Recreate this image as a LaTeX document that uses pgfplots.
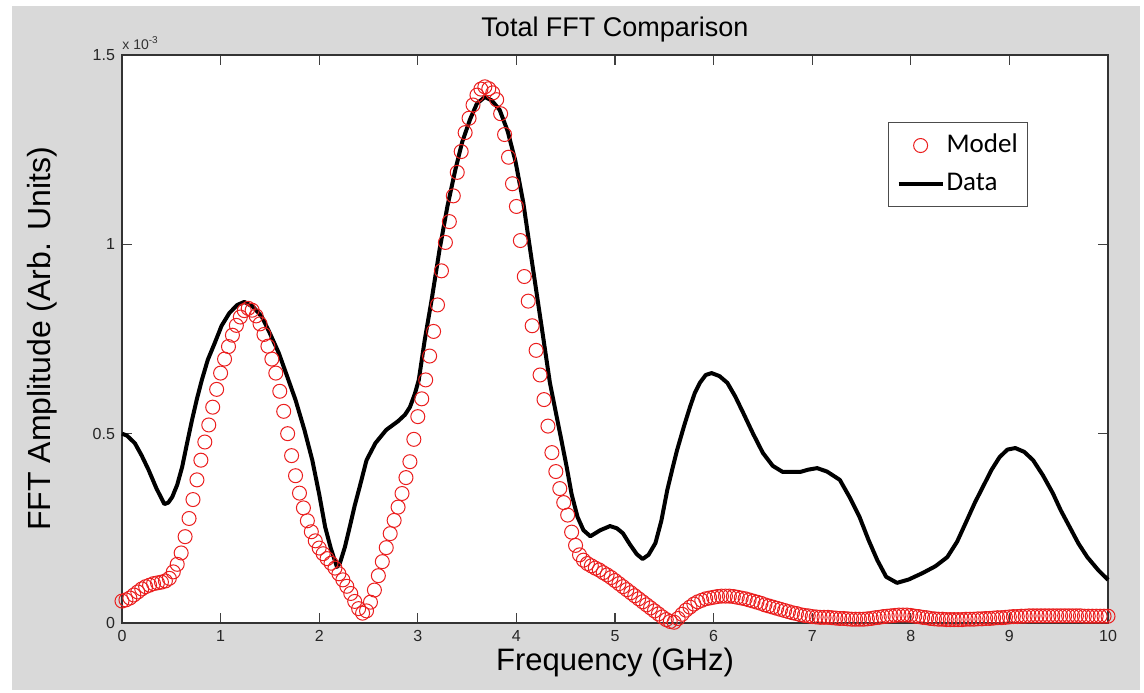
\documentclass[border=0pt]{standalone}
\usepackage{pgfplots}
\pgfplotsset{compat=1.18}
\usepackage{fontspec}
\setmainfont{Liberation Sans}
\newfontfamily\calibri{Carlito}
\definecolor{figbg}{RGB}{217,217,217}
\definecolor{mred}{RGB}{235,30,30}
\pgfplotsset{
  markleg/.style={legend image code/.code={\draw[mark repeat=2,mark phase=2,##1] plot coordinates {(0pt,0pt) (11pt,0pt) (22pt,0pt)};}},
  lineleg/.style={legend image code/.code={\draw[##1] (0pt,0pt) -- (22pt,0pt);}},
}
\begin{document}
\begin{tikzpicture}
\useasboundingbox (0,0) rectangle (572pt,346pt);
\fill[white] (0,0) rectangle (572pt,346pt);
\fill[figbg] (6pt,1pt) rectangle (570pt,343pt);
\begin{axis}[
  scale only axis,
  width=493pt, height=284pt,
  at={(61pt,34.5pt)}, anchor=south west,
  axis background/.style={fill=white},
  xmin=0, xmax=10, ymin=0, ymax=1.5,
  xtick={0,1,...,10},
  ytick={0,0.5,1,1.5},
  yticklabels={0,0.5,1,1.5},
  scaled y ticks=false,
  tick align=inside,
  major tick length=5pt,
  every tick/.style={black!75, line width=0.6pt},
  axis line style={black!80, line width=0.7pt},
  tick label style={font=\fontsize{8}{9}\selectfont, text=black!85},
  /pgf/number format/assume math mode=true,
  clip=false,
  xlabel={Frequency (GHz)},
  xlabel style={at={(axis description cs:0.5,-0.0687)}, anchor=center, font=\fontsize{15.5}{16}\selectfont},
  ylabel={FFT Amplitude (Arb. Units)},
  ylabel style={at={(axis description cs:-0.0811,0.5)}, anchor=center, font=\fontsize{16}{17}\selectfont},
  legend style={at={(axis description cs:0.777,0.882)}, anchor=north west,
    draw=black!70, line width=0.5pt, fill=white,
    font=\calibri\fontsize{13.5}{14}\selectfont,
    inner xsep=4pt, inner ysep=4pt, row sep=4pt,
    nodes={inner sep=1pt, text height=10pt, text depth=3pt}},
  legend cell align=left,
]
\addplot[only marks, mark=o, mark size=3.5pt, mred, mark options={line width=0.5pt}, markleg]
table {
x y
0.00 0.058
0.04 0.061
0.08 0.066
0.12 0.074
0.16 0.082
0.20 0.090
0.24 0.096
0.28 0.100
0.32 0.104
0.36 0.106
0.40 0.108
0.44 0.111
0.48 0.118
0.52 0.135
0.56 0.155
0.60 0.185
0.64 0.228
0.68 0.276
0.72 0.326
0.76 0.378
0.80 0.430
0.84 0.478
0.88 0.523
0.92 0.570
0.96 0.617
1.00 0.660
1.04 0.697
1.08 0.730
1.12 0.760
1.16 0.786
1.20 0.808
1.24 0.825
1.28 0.831
1.32 0.826
1.36 0.811
1.40 0.790
1.44 0.762
1.48 0.731
1.52 0.697
1.56 0.660
1.60 0.612
1.64 0.559
1.68 0.500
1.72 0.442
1.76 0.389
1.80 0.343
1.84 0.304
1.88 0.270
1.92 0.241
1.96 0.217
2.00 0.198
2.04 0.183
2.08 0.170
2.12 0.158
2.16 0.145
2.20 0.130
2.24 0.114
2.28 0.097
2.32 0.078
2.36 0.057
2.40 0.038
2.44 0.026
2.48 0.032
2.52 0.055
2.56 0.087
2.60 0.125
2.64 0.162
2.68 0.199
2.72 0.236
2.76 0.271
2.80 0.306
2.84 0.342
2.88 0.384
2.92 0.426
2.96 0.485
3.00 0.545
3.04 0.592
3.08 0.642
3.12 0.705
3.16 0.770
3.20 0.840
3.24 0.930
3.28 1.005
3.32 1.060
3.36 1.128
3.40 1.190
3.44 1.245
3.48 1.295
3.52 1.333
3.56 1.368
3.60 1.394
3.64 1.410
3.68 1.416
3.72 1.411
3.76 1.400
3.80 1.382
3.84 1.345
3.88 1.290
3.92 1.230
3.96 1.160
4.00 1.100
4.04 1.010
4.08 0.915
4.12 0.850
4.16 0.785
4.20 0.720
4.24 0.655
4.28 0.590
4.32 0.520
4.36 0.450
4.40 0.400
4.44 0.355
4.48 0.318
4.52 0.285
4.56 0.240
4.60 0.205
4.64 0.180
4.68 0.166
4.72 0.157
4.76 0.151
4.80 0.145
4.84 0.140
4.88 0.133
4.92 0.127
4.96 0.120
5.00 0.112
5.04 0.104
5.08 0.096
5.12 0.088
5.16 0.080
5.20 0.072
5.24 0.064
5.28 0.056
5.32 0.048
5.36 0.040
5.40 0.032
5.44 0.024
5.48 0.016
5.52 0.009
5.56 0.004
5.60 0.002
5.64 0.012
5.68 0.023
5.72 0.034
5.76 0.042
5.80 0.050
5.84 0.056
5.88 0.060
5.92 0.064
5.96 0.066
6.00 0.068
6.04 0.070
6.08 0.071
6.12 0.071
6.16 0.071
6.20 0.070
6.24 0.068
6.28 0.066
6.32 0.064
6.36 0.061
6.40 0.058
6.44 0.055
6.48 0.052
6.52 0.048
6.56 0.045
6.60 0.042
6.64 0.039
6.68 0.036
6.72 0.033
6.76 0.030
6.80 0.027
6.84 0.025
6.88 0.022
6.92 0.020
6.96 0.019
7.00 0.017
7.04 0.016
7.08 0.015
7.12 0.015
7.16 0.015
7.20 0.014
7.24 0.013
7.28 0.012
7.32 0.012
7.36 0.011
7.40 0.010
7.44 0.010
7.48 0.010
7.52 0.010
7.56 0.011
7.60 0.012
7.64 0.014
7.68 0.015
7.72 0.017
7.76 0.018
7.80 0.019
7.84 0.020
7.88 0.021
7.92 0.021
7.96 0.021
8.00 0.020
8.04 0.018
8.08 0.017
8.12 0.015
8.16 0.014
8.20 0.012
8.24 0.011
8.28 0.010
8.32 0.010
8.36 0.009
8.40 0.009
8.44 0.009
8.48 0.009
8.52 0.009
8.56 0.010
8.60 0.010
8.64 0.010
8.68 0.011
8.72 0.011
8.76 0.012
8.80 0.012
8.84 0.013
8.88 0.014
8.92 0.014
8.96 0.015
9.00 0.016
9.04 0.017
9.08 0.017
9.12 0.018
9.16 0.018
9.20 0.019
9.24 0.019
9.28 0.019
9.32 0.019
9.36 0.019
9.40 0.019
9.44 0.019
9.48 0.019
9.52 0.019
9.56 0.019
9.60 0.019
9.64 0.019
9.68 0.019
9.72 0.019
9.76 0.018
9.80 0.018
9.84 0.018
9.88 0.018
9.92 0.018
9.96 0.018
10.00 0.018
};
\addlegendentry{Model}
\addplot[black, line width=2pt, line join=round, lineleg]
table {
x y
0.00 0.500
0.05 0.495
0.13 0.475
0.20 0.442
0.27 0.404
0.35 0.355
0.43 0.314
0.47 0.318
0.51 0.333
0.56 0.365
0.61 0.412
0.66 0.475
0.71 0.536
0.76 0.592
0.81 0.642
0.87 0.695
0.94 0.739
1.01 0.785
1.09 0.819
1.17 0.840
1.24 0.848
1.33 0.835
1.42 0.808
1.50 0.765
1.59 0.713
1.67 0.655
1.76 0.589
1.85 0.510
1.93 0.430
2.00 0.340
2.06 0.254
2.12 0.195
2.18 0.148
2.21 0.158
2.26 0.200
2.31 0.254
2.36 0.310
2.41 0.359
2.48 0.430
2.57 0.475
2.68 0.510
2.80 0.533
2.87 0.550
2.92 0.570
2.97 0.605
3.01 0.642
3.07 0.747
3.14 0.853
3.22 0.985
3.30 1.100
3.38 1.196
3.45 1.270
3.53 1.330
3.60 1.372
3.68 1.389
3.75 1.380
3.83 1.355
3.91 1.300
3.99 1.220
4.07 1.110
4.14 0.985
4.20 0.880
4.26 0.775
4.34 0.634
4.40 0.556
4.46 0.478
4.51 0.412
4.56 0.340
4.62 0.280
4.68 0.245
4.75 0.229
4.85 0.245
4.95 0.256
5.02 0.250
5.08 0.237
5.15 0.208
5.22 0.182
5.28 0.169
5.34 0.180
5.41 0.211
5.47 0.270
5.53 0.351
5.58 0.405
5.63 0.457
5.70 0.520
5.76 0.570
5.81 0.608
5.86 0.634
5.92 0.655
5.98 0.660
6.06 0.652
6.14 0.634
6.22 0.598
6.30 0.555
6.40 0.500
6.50 0.449
6.60 0.415
6.70 0.399
6.80 0.399
6.88 0.399
6.96 0.405
7.05 0.409
7.15 0.400
7.28 0.378
7.38 0.332
7.48 0.280
7.57 0.220
7.66 0.166
7.75 0.122
7.86 0.106
7.98 0.115
8.12 0.132
8.25 0.150
8.37 0.174
8.47 0.215
8.57 0.272
8.65 0.318
8.73 0.359
8.82 0.405
8.90 0.438
8.98 0.458
9.06 0.462
9.15 0.452
9.24 0.430
9.34 0.390
9.44 0.343
9.52 0.298
9.61 0.254
9.70 0.210
9.79 0.174
9.90 0.140
10.00 0.114
};
\addlegendentry{Data}
\node[anchor=south west, inner sep=0pt, font=\fontsize{7}{8}\selectfont, text=black!80]
  at (axis description cs:0,1.008) {x 10\textsuperscript{-3}};
\node[anchor=center, inner sep=0pt, font=\fontsize{13.5}{14}\selectfont]
  at (axis description cs:0.5,1.044) {Total FFT Comparison};
\end{axis}
\end{tikzpicture}
\end{document}
